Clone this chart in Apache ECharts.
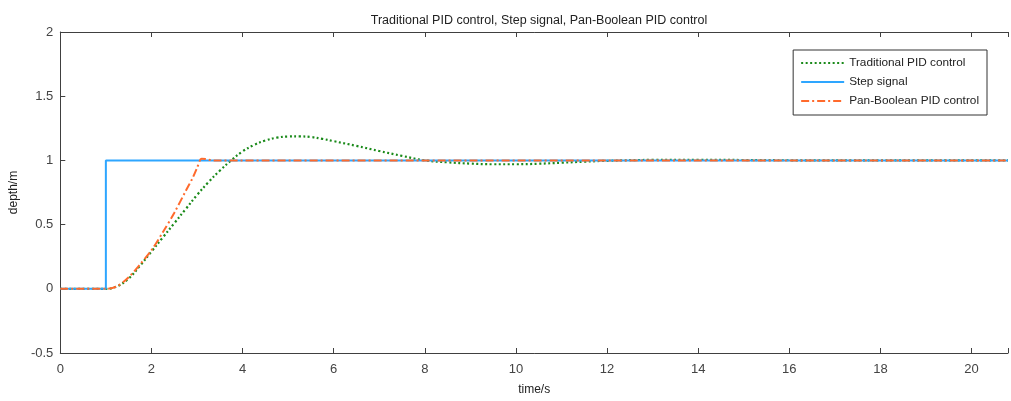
<!DOCTYPE html>
<html><head><meta charset="utf-8">
<script src="https://cdn.jsdelivr.net/npm/echarts@6/dist/echarts.min.js"></script>
<style>html,body{margin:0;padding:0;background:#fff}#c{width:1011px;height:401px}</style>
</head><body><div id="c"></div>
<script>
const titleText = 'Traditional PID control, Step signal, Pan-Boolean PID control';
const seriesNames = ['Traditional PID control', 'Step signal', 'Pan-Boolean PID control'];
const xTicks = [0, 2, 4, 6, 8, 10, 12, 14, 16, 18, 20];
const yTicks = [-0.5, 0, 0.5, 1, 1.5, 2];

const tradT = [0, 1, 1.25, 1.5, 1.75, 2, 2.25, 2.5, 2.75, 3, 3.25, 3.5, 3.75, 4, 4.25, 4.5, 4.75, 5, 5.25, 5.5, 5.75, 6, 6.5, 7, 7.5, 8, 8.5, 9, 9.5, 10, 10.5, 11, 11.5, 12, 13, 14, 15, 16, 18, 20.8];
const tradY = [0, 0, 0.02, 0.08, 0.18, 0.29, 0.40, 0.51, 0.62, 0.73, 0.83, 0.92, 1.0, 1.07, 1.12, 1.155, 1.177, 1.186, 1.187, 1.182, 1.168, 1.15, 1.113, 1.073, 1.035, 1.0, 0.985, 0.975, 0.97, 0.97, 0.974, 0.982, 0.99, 0.997, 1.004, 1.005, 1.003, 1.001, 1.0, 1.0];

const stepT = [0, 1, 1, 20.8];
const stepY = [0, 0, 1, 1];

const panT = [0, 1, 1.25, 1.5, 1.75, 2, 2.25, 2.5, 2.75, 2.9, 3.0, 3.1, 3.2, 3.35, 20.8];
const panY = [0, 0, 0.02, 0.09, 0.19, 0.3, 0.44, 0.59, 0.76, 0.86, 0.94, 1.012, 1.01, 1.0, 1.0];

const zip = (a, b) => a.map((v, i) => [v, b[i]]);
const axisColor = '#404040';
const chart = echarts.init(document.getElementById('c'), null, {renderer: 'canvas'});
chart.setOption({
  animation: false,
  backgroundColor: '#fff',
  title: {text: titleText, left: 534, textAlign: 'center', top: 9,
    textStyle: {fontFamily: 'Liberation Sans', fontSize: 12.5, fontWeight: 'normal', color: '#222'}},
  legend: {
    orient: 'vertical', right: 24, top: 50,
    data: seriesNames,
    itemWidth: 43, itemHeight: 10, itemGap: 7,
    padding: [7, 8, 8, 7],
    itemStyle: {opacity: 0},
    backgroundColor: '#fff', borderColor: '#333', borderWidth: 1,
    textStyle: {fontFamily: 'Liberation Sans', fontSize: 11.8, color: '#222'}
  },
  grid: {left: 58, right: 0, top: 32, bottom: 46},
  xAxis: [{
    type: 'value', min: 0, max: 20.8, interval: 2,
    name: 'time/s', nameLocation: 'middle', nameGap: 31,
    nameTextStyle: {fontFamily: 'Liberation Sans', fontSize: 12, color: '#222'},
    axisLine: {onZero: false, lineStyle: {color: axisColor, width: 1}},
    axisTick: {inside: true, length: 5, lineStyle: {color: axisColor}},
    axisLabel: {margin: 10, fontFamily: 'Liberation Sans', fontSize: 13, color: '#444',
      formatter: v => xTicks.includes(v) ? String(v) : ''},
    splitLine: {show: false}
  }, {
    type: 'value', position: 'top', min: 0, max: 20.8, interval: 2,
    axisLine: {show: true, onZero: false, lineStyle: {color: axisColor, width: 1}},
    axisTick: {inside: true, length: 5, lineStyle: {color: axisColor}},
    axisLabel: {show: false}, splitLine: {show: false}
  }],
  yAxis: [{
    type: 'value', min: -0.5, max: 2, interval: 0.5,
    name: 'depth/m', nameLocation: 'middle', nameGap: 32, nameRotate: 90,
    nameTextStyle: {fontFamily: 'Liberation Sans', fontSize: 12, color: '#222'},
    axisLine: {show: true, onZero: false, lineStyle: {color: axisColor, width: 1}},
    axisTick: {show: true, inside: true, length: 5, lineStyle: {color: axisColor}},
    axisLabel: {margin: 7, fontFamily: 'Liberation Sans', fontSize: 13, color: '#444',
      formatter: v => yTicks.includes(v) ? String(v) : ''},
    splitLine: {show: false}
  }],
  series: [
    {name: seriesNames[0], type: 'line', data: zip(tradT, tradY), smooth: 0.4, showSymbol: false, symbol: 'none',
      color: '#1a8a1a', lineStyle: {color: '#1a8a1a', width: 2.2, type: [2, 2.5]}, z: 2},
    {name: seriesNames[1], type: 'line', data: zip(stepT, stepY), smooth: false, showSymbol: false, symbol: 'none',
      color: '#2ea6ff', lineStyle: {color: '#2ea6ff', width: 2}, z: 3},
    {name: seriesNames[2], type: 'line', data: zip(panT, panY), smooth: 0.3, showSymbol: false, symbol: 'none',
      color: '#ff6a2c', lineStyle: {color: '#ff6a2c', width: 2, type: [8, 3, 2, 3]}, z: 4}
  ]
});
</script></body></html>
